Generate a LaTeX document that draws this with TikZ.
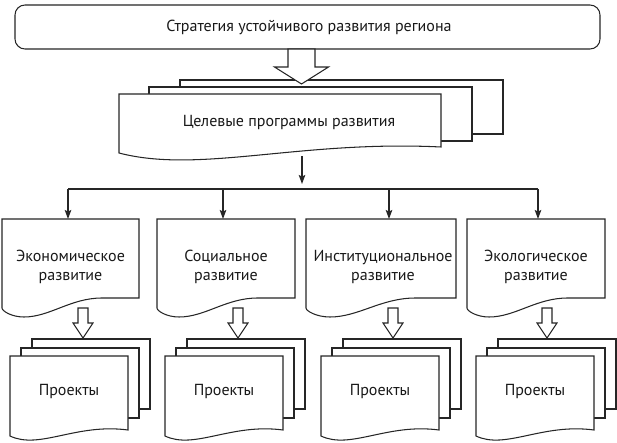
\documentclass[tikz,border=0pt]{standalone}
\usepackage{fontspec}
\setmainfont{PT Sans}
\usetikzlibrary{arrows.meta}
\newcommand\DocRow[4]{% x1 x2 top yR : flat right part, wave on the left
  \path[sheet] (#1,#3) -- (#2,#3) -- (#2,#4) -- ({#1+0.73*(#2-#1)},#4)
    .. controls ({#1+0.5*(#2-#1)},#4) and ({#1+0.35*(#2-#1)},{#4+19}) .. ({#1+0.16*(#2-#1)},{#4+19})
    .. controls ({#1+0.07*(#2-#1)},{#4+19}) and (#1,{#4+13}) .. (#1,{#4+10}) -- cycle;}
\newcommand\DocWave[5]{% x1 x2 top yR dip
  \path[sheet] (#1,#3) -- (#2,#3) -- (#2,#4)
    .. controls ({#1+0.56*(#2-#1)},{#4-7}) and ({#1+0.25*(#2-#1)},{#4+#5}) .. (#1,{#4+6}) -- cycle;}
\newcommand\SheetRect[4]{\path[sheet] (#1,#3) rectangle (#2,#4);}
\newcommand\BlockArrow[6]{% cx ytop yhead ytip shafthalf headhalf
  \path[sheet] ({#1-#5},#2) -- ({#1+#5},#2) -- ({#1+#5},#3) -- ({#1+#6},#3) -- (#1,#4)
    -- ({#1-#6},#3) -- ({#1-#5},#3) -- cycle;}
\newcommand\ProjStack[1]{% x1 of front sheet
  \SheetRect{#1+22}{#1+140}{339}{409}
  \SheetRect{#1+11}{#1+129}{348}{418}
  \DocWave{#1}{#1+118}{356}{430}{20}}
\begin{document}
\begin{tikzpicture}[x=1pt,y=-1pt,line width=1.05pt,
  sheet/.style={draw=black!85,fill=white,line join=miter},
  lbl/.style={font=\fontsize{16}{19}\selectfont,align=center,inner sep=0pt,text=black!90},
  conn/.style={draw=black!85,-{Stealth[length=9pt,width=6.5pt,inset=1.5pt]}},
  bus/.style={draw=black!85}]
\useasboundingbox (0,0) rectangle (617,443);
% top box
\draw[sheet,rounded corners=10pt] (15,5) rectangle (600,49);
\node[lbl] (strat) at (309,27) {Стратегия устойчивого развития региона};
% programs stack
\SheetRect{180}{503}{80}{134}
\SheetRect{149}{472}{87}{141}
\DocWave{119}{441}{94}{147}{27}
\BlockArrow{301.5}{49}{67}{84}{13.5}{27}
\node[lbl] (prog) at (289,123) {Целевые программы развития};
% connectors
\coordinate (progbot) at (302,156);
\coordinate (busin) at (302,184);
\coordinate (busL) at (68,189);
\coordinate (busB) at (223,189);
\coordinate (busC) at (389,189);
\coordinate (busR) at (538,189);
\coordinate (topA) at (68,219);
\coordinate (topB) at (223,219);
\coordinate (topC) at (389,219);
\coordinate (topD) at (538,219);
\draw[conn] (progbot) -- (busin);
\draw[bus] (busL) -- (busR);
\draw[conn] (busL) -- (topA);
\draw[conn] (busB) -- (topB);
\draw[conn] (busC) -- (topC);
\draw[conn] (busR) -- (topD);
% second row boxes
\DocRow{2}{139}{219}{298}
\DocRow{157}{295}{219}{298}
\DocRow{306}{456}{219}{298}
\DocRow{467}{605}{219}{298}
\node[lbl] (eco) at (70.5,267) {Экономическое\\развитие};
\node[lbl] (soc) at (226,267) {Социальное\\развитие};
\node[lbl] (inst) at (383,267) {Институциональное\\развитие};
\node[lbl] (ecol) at (536,267) {Экологическое\\развитие};
% block arrows to projects
\BlockArrow{83}{308}{323}{338}{5}{10}
\BlockArrow{238}{308}{323}{338}{5}{10}
\BlockArrow{393}{308}{323}{338}{5}{10}
\BlockArrow{547}{308}{323}{338}{5}{10}
% projects stacks
\ProjStack{10}
\ProjStack{165}
\ProjStack{321}
\ProjStack{476}
\node[lbl] (p1) at (69,391) {Проекты};
\node[lbl] (p2) at (224,391) {Проекты};
\node[lbl] (p3) at (380,391) {Проекты};
\node[lbl] (p4) at (535,391) {Проекты};
\end{tikzpicture}
\end{document}
